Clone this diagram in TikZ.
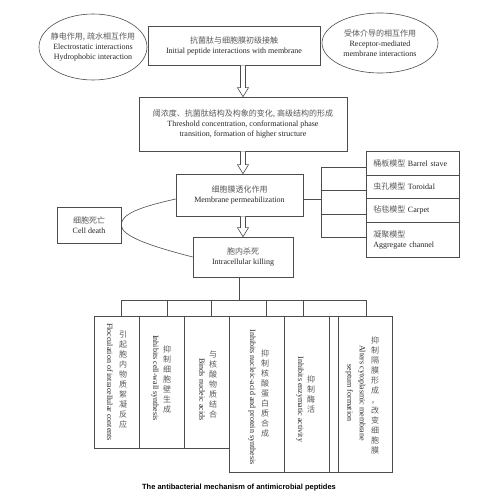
\documentclass[tikz,border=0pt]{standalone}
\usepackage{fontspec}
\setmainfont{Liberation Serif}
\newfontfamily\cjk{Noto Sans CJK SC}
\newfontfamily\capfont{Liberation Sans}
\usetikzlibrary{shapes.geometric,calc}
\newcommand\zh[1]{{\cjk\fontsize{8}{10}\selectfont\color{black!65}#1}}
\tikzset{
  ln/.style={draw=black!70, line width=0.6pt},
  box/.style={ln, rectangle, inner sep=0pt, align=center, text=black!85, font=\fontsize{8}{10}\selectfont},
  mbox/.style={box, align=left, text width=79pt, inner xsep=7pt, inner ysep=0pt, minimum width=93pt, anchor=north west},
  ell/.style={ln, ellipse, inner sep=0pt},
  txt/.style={align=center, text=black!85, inner sep=0pt, font=\fontsize{8}{10}\selectfont},
  vtxt/.style={txt, rotate=-90},
  ztxt/.style={txt, text=black!65, font=\fontsize{8}{10}\selectfont\cjk},
}
\newcommand\hollowarr[2]{%
  \draw[ln, fill=white] ($(#1.south -| thr.center)+(-2.5,0)$) -- ($(#2.north -| thr.center)+(-2.5,-9)$)
    -- ($(#2.north -| thr.center)+(-5.5,-9)$) -- (#2.north -| thr.center)
    -- ($(#2.north -| thr.center)+(5.5,-9)$) -- ($(#2.north -| thr.center)+(2.5,-9)$)
    -- ($(#1.south -| thr.center)+(2.5,0)$);}
\begin{document}
\begin{tikzpicture}[x=1pt,y=-1pt]
\fill[white] (0,0) rectangle (502,502);
\useasboundingbox (0,0) rectangle (502,502);

% ellipses
\node[ell, minimum width=108pt, minimum height=66pt] (el) at (93,47) {};
\node[txt] (elt) at (el.center) {\zh{静电作用, 疏水相互作用}\\Electrostatic interactions\\Hydrophobic interaction};
\node[ell, minimum width=116pt, minimum height=60pt] (er) at (380,43) {};
\node[txt] (ert) at (er.center) {\zh{受体介导的相互作用}\\Receptor-mediated\\membrane interactions};

% main chain
\node[box, minimum width=172pt, minimum height=39pt] (top) at (234,45.5) {\zh{抗菌肽与细胞膜初级接触}\\Initial peptide interactions with membrane};
\node[box, minimum width=208pt, minimum height=54pt] (thr) at (243,124) {\zh{阈浓度、抗菌肽结构及构象的变化, 高级结构的形成}\\Threshold concentration, conformational phase\\transition, formation of higher structure};
\node[box, minimum width=127pt, minimum height=42pt] (mem) at (239.5,195) {\zh{细胞膜透化作用}\\Membrane permeabilization};
\node[box, minimum width=100pt, minimum height=40pt] (ic) at (243,257) {\zh{胞内杀死}\\Intracellular killing};
\node[box, minimum width=64pt, minimum height=36pt] (cd) at (89,225) {\zh{细胞死亡}\\Cell death};

\hollowarr{top}{thr}
\hollowarr{thr}{mem}
\hollowarr{mem}{ic}

% models
\node[mbox, minimum height=24pt] (m1) at (366,151) {\zh{桶板模型} Barrel stave};
\node[mbox, minimum height=23pt] (m2) at (366,175) {\zh{虫孔模型} Toroidal};
\node[mbox, minimum height=24pt] (m3) at (366,198) {\zh{毡毯模型} Carpet};
\node[mbox, minimum height=35pt] (m4) at (366,222) {\zh{凝聚模型}\\Aggregate channel};

\coordinate (jm) at (321,199);
\coordinate (j1) at (321,167);
\coordinate (j2) at (321,190);
\coordinate (j3) at (321,214);
\coordinate (j4) at (321,237);
\draw[ln] (jm -| mem.east) -- (jm);
\draw[ln] (j1) -- (j4);
\draw[ln] (j1) -- (j1 -| m1.west);
\draw[ln] (j2) -- (j2 -| m2.west);
\draw[ln] (j3) -- (j3 -| m3.west);
\draw[ln] (j4) -- (j4 -| m4.west);

% cell death curve
\draw[ln] ($(mem.west)+(0,4)$) .. controls (140,207) and (121,214) .. (cd.east)
          .. controls (121,236) and (150,246) .. (ic.west);

% bottom boxes
\node[box, minimum width=45pt, minimum height=132pt] (b1) at (116.5,382) {};
\node[box, minimum width=45pt, minimum height=132pt] (b2) at (161.5,382) {};
\node[box, minimum width=45pt, minimum height=132pt] (b3) at (206.5,382) {};
\node[box, minimum width=55pt, minimum height=156pt] (b4) at (256.5,394) {};
\node[box, minimum width=45pt, minimum height=156pt] (b5) at (306.5,394) {};
\node[box, minimum width=9pt, minimum height=156pt] (bg) at (333.5,394) {};
\node[box, minimum width=54pt, minimum height=156pt] (b6) at (365,394) {};

\coordinate (bt) at (239,300);
\coordinate (d1) at (121,300);
\coordinate (d2) at (167,300);
\coordinate (d3) at (211,300);
\coordinate (d4) at (266,300);
\coordinate (d5) at (303,300);
\coordinate (d6) at (366,300);
\draw[ln] (ic.south -| bt) -- (bt);
\draw[ln] (d1) -- (d6);
\draw[ln] (d1) -- (d1 |- b1.north);
\draw[ln] (d2) -- (d2 |- b2.north);
\draw[ln] (d3) -- (d3 |- b3.north);
\draw[ln] (d4) -- (d4 |- b4.north);
\draw[ln] (d5) -- (d5 |- b5.north);
\draw[ln] (d6) -- (d6 |- b6.north);

% texts in bottom boxes
\node[ztxt] (c1) at (123,380) {引\\起\\胞\\内\\物\\质\\絮\\凝\\反\\应};
\node[vtxt] (t1) at (110,382) {Flocculation of intracellular contents};
\node[ztxt] (c2) at (167,379) {抑\\制\\细\\胞\\壁\\生\\成};
\node[vtxt] (t2) at (155,378) {Inhibits cell-wall synthesis};
\node[ztxt] (c3) at (213,385) {与\\核\\酸\\物\\质\\结\\合};
\node[vtxt] (t3) at (202,389.5) {Binds nucleic acids};
\node[ztxt] (c4) at (265,393.5) {抑\\制\\核\\酸\\蛋\\白\\质\\合\\成};
\node[vtxt] (t4) at (252,397) {Inhibits nucleic-acid and protein synthesis};
\node[ztxt] (c5) at (311,394) {抑\\制\\酶\\活};
\node[vtxt] (t5) at (300,399.5) {Inhibits enzymatic activity};
\node[ztxt] (c6) at (375,395) {抑\\制\\隔\\膜\\形\\成\\，\\改\\变\\细\\胞\\膜};
\node[vtxt, font=\fontsize{8}{12.5}\selectfont] (t6) at (355.5,393) {Alters cytoplasmic membrane\\septum formation};

% caption
\node[txt, text=black, font=\capfont\bfseries\fontsize{7.5}{9}\selectfont] (cap) at (239,488) {The antibacterial mechanism of antimicrobial peptides};
\end{tikzpicture}
\end{document}
